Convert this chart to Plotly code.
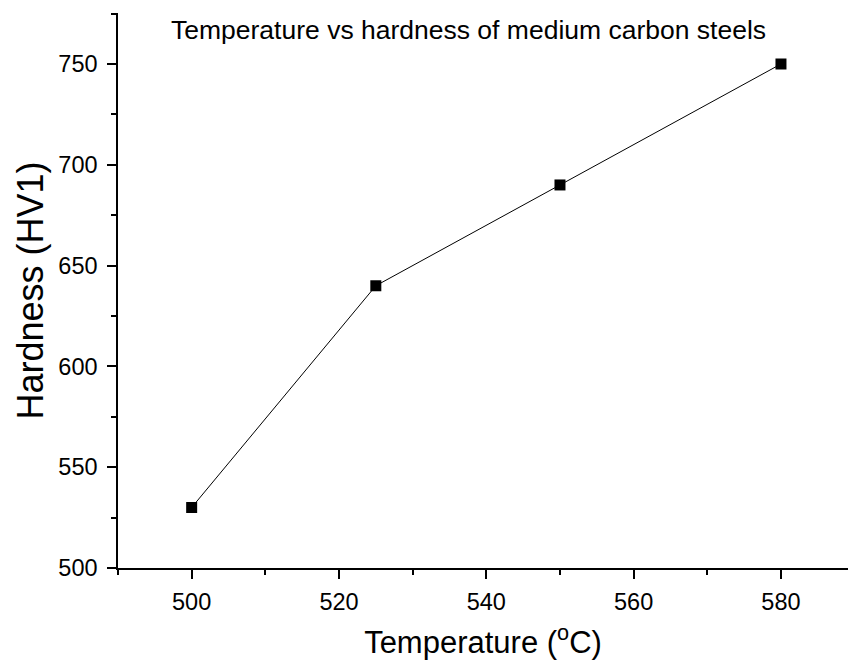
import plotly.graph_objects as go

temperature = [500, 525, 550, 580]
hardness = [530, 640, 690, 750]

title_text = "Temperature vs hardness of medium carbon steels"
x_title = "Temperature (<sup>o</sup>C)"
y_title = "Hardness (HV1)"

fig = go.Figure()
fig.add_trace(go.Scatter(
    x=temperature, y=hardness, mode="lines+markers",
    line=dict(color="black", width=1),
    marker=dict(symbol="square", size=11, color="black"),
    showlegend=False,
))

font_family = "Liberation Sans, Arial, sans-serif"
fig.update_layout(
    width=848, height=660,
    margin=dict(l=118, r=0, t=13, b=92),
    plot_bgcolor="white", paper_bgcolor="white",
    font=dict(family=font_family, color="black"),
    annotations=[dict(
        text=title_text, x=0.48, xref="paper", y=1.0, yref="paper",
        yanchor="middle", yshift=-17, xanchor="center",
        showarrow=False, font=dict(size=26.5, family=font_family, color="black"),
    )],
)
fig.update_xaxes(
    range=[490, 589.1], showgrid=False, zeroline=False,
    showline=True, linecolor="black", linewidth=1.5,
    ticks="outside", ticklen=9, tickwidth=1.5, tickcolor="black",
    tickvals=[500, 520, 540, 560, 580],
    tickfont=dict(size=23.5), ticklabelstandoff=3,
    minor=dict(ticks="outside", ticklen=5, tickwidth=1.5, tickcolor="black", dtick=10, tick0=490),
    title=dict(text=x_title, font=dict(size=31), standoff=17),
)
fig.update_yaxes(
    range=[500, 775.3], showgrid=False, zeroline=False,
    showline=True, linecolor="black", linewidth=1.5,
    ticks="outside", ticklen=9, tickwidth=1.5, tickcolor="black",
    tickvals=[500, 550, 600, 650, 700, 750],
    tickfont=dict(size=23.5), ticklabelstandoff=5,
    minor=dict(ticks="outside", ticklen=5, tickwidth=1.5, tickcolor="black", dtick=25, tick0=500),
    title=dict(text=y_title, font=dict(size=36), standoff=4),
)

fig.write_html("out.html")
